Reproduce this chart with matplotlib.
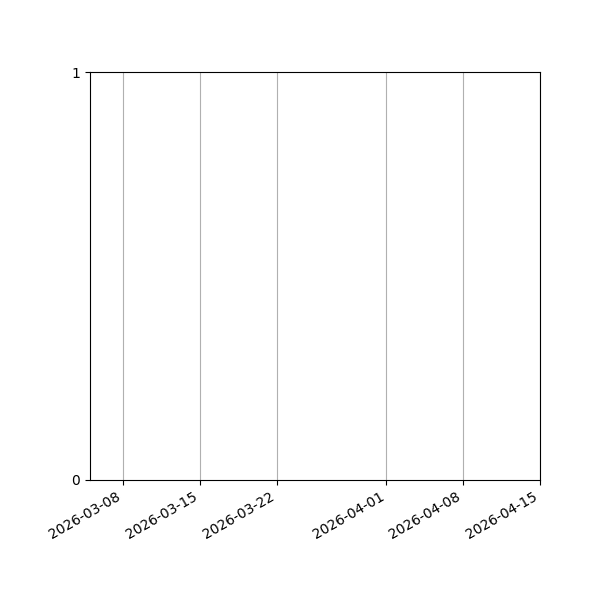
import matplotlib
matplotlib.use("Agg")
import matplotlib.pyplot as plt
import matplotlib.dates as mdates
import numpy as np
from datetime import datetime

# date range shown on the (empty) chart
date_start = datetime(2026, 3, 5)
date_end = datetime(2026, 4, 15)
tick_dates = [datetime(2026, 3, 8), datetime(2026, 3, 15), datetime(2026, 3, 22),
              datetime(2026, 4, 1), datetime(2026, 4, 8), datetime(2026, 4, 15)]
y_ticks = [0, 1]

# no observations in this window
dates = []
values = []

fig, ax = plt.subplots(figsize=(6, 6), dpi=100)
ax.plot(dates, values)

ax.set_xlim(date_start, date_end)
ax.set_ylim(0, 1)
ax.set_xticks(tick_dates)
ax.xaxis.set_major_formatter(mdates.DateFormatter('%Y-%m-%d'))
ax.set_yticks(y_ticks)
ax.grid(axis='x')

fig.autofmt_xdate()
fig.subplots_adjust(left=0.15, right=0.9, bottom=0.2, top=0.88)
fig.savefig("out.png")
